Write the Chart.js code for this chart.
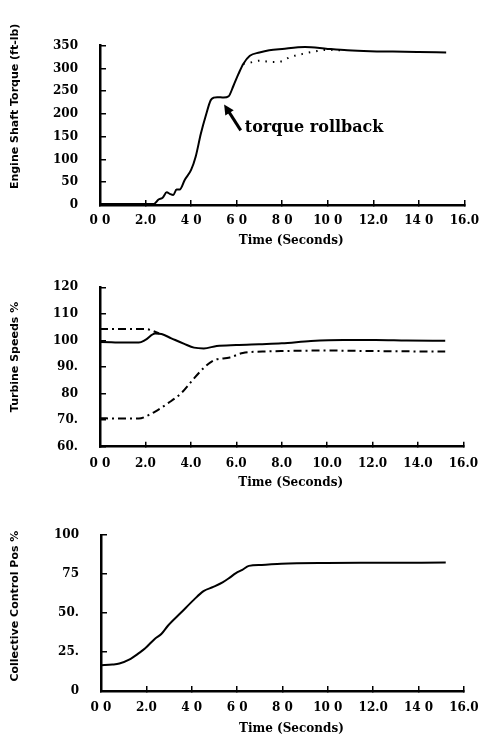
<!DOCTYPE html>
<html>
<head>
<meta charset="utf-8">
<script src="https://cdn.jsdelivr.net/npm/chart.js@4.4.1/dist/chart.umd.min.js"></script>
<style>
  html, body { margin: 0; padding: 0; background: #fff; }
  body { width: 493px; height: 736px; position: relative; overflow: hidden; }
  canvas { position: absolute; left: 0; }
</style>
</head>
<body>
<canvas id="c1" width="493" height="250" style="top:0px"></canvas>
<canvas id="c2" width="493" height="250" style="top:250px"></canvas>
<canvas id="c3" width="493" height="236" style="top:500px"></canvas>
<script>
// ---------------- DATA ----------------
// Shared x tick labels (as printed in the scanned figure)
const xTickLabelsA = ['0 0', '2.0', '4 0', '6 0', '8 0', '10 0', '12.0', '14 0', '16.0'];
const xTickLabelsB = ['0 0', '2.0', '4.0', '6.0', '8.0', '10.0', '12.0', '14.0', '16.0'];

// Chart 1: Engine shaft torque (ft-lb)
const torqueYTicks = ['0', '50', '100', '150', '200', '250', '300', '350'];
const torqueTime = [0, 1, 2, 2.36, 2.57, 2.75, 2.93, 3.08, 3.22, 3.36, 3.5, 3.72, 4.0, 4.2, 4.43, 4.65, 4.86, 5.0, 5.15, 5.43, 5.65, 5.86, 6.08, 6.29, 6.58, 7.0, 7.43, 8.0, 9.0, 10.0, 10.86, 11.86, 12.86, 14.0, 15.2];
const torqueSolid = [2, 2, 2, 2, 12, 16, 28, 24, 22, 34, 34, 55, 77, 106, 157, 197, 230, 236, 237, 236, 239, 262, 288, 310, 328, 335, 340, 343, 347, 343, 340, 338, 337, 336, 335];
const torqueDotTime = [6.29, 6.6, 7.0, 7.6, 8.0, 8.3, 8.9, 9.4, 10.0, 10.6];
const torqueDotted = [310, 313, 317, 314, 316, 324, 332, 337, 341, 340];
const rollbackLabel = 'torque rollback';
const rollbackTip = [5.45, 221];
const rollbackTail = [6.18, 164];

// Chart 2: Turbine speeds %
const speedYTicks = ['60.', '70.', '80', '90.', '100', '110', '120'];
const speedTime = [0, 0.5, 1.0, 1.71, 2.0, 2.43, 2.71, 3.14, 3.71, 4.14, 4.57, 5.14, 6.0, 7.0, 8.0, 9.29, 10.71, 12.14, 13.5, 15.2];
const speedSolid = [99.4, 99.3, 99.2, 99.2, 100.2, 102.6, 102.4, 100.8, 98.7, 97.3, 97.0, 97.9, 98.3, 98.6, 98.9, 99.8, 100.2, 100.2, 100.0, 99.9];
const speedUpperTime = [0, 1.0, 2.0, 2.29, 2.6];
const speedUpper = [104.3, 104.3, 104.3, 103.7, 102.6];
const speedLowerTime = [0, 1.0, 1.71, 2.14, 2.43, 3.0, 3.57, 4.0, 4.57, 5.0, 5.14, 5.72, 6.29, 7.15, 8.0, 10.0, 12.0, 15.2];
const speedLower = [70.7, 70.6, 70.6, 71.9, 73.2, 76.4, 80.1, 84.3, 89.7, 92.5, 92.9, 93.6, 95.3, 95.8, 96.0, 96.2, 96.0, 95.8];

// Chart 3: Collective control position %
const collYTicks = ['0', '25.', '50.', '75', '100'];
const collTime = [0, 0.5, 0.81, 1.24, 1.67, 1.95, 2.38, 2.67, 2.95, 3.52, 4.09, 4.52, 4.95, 5.38, 5.66, 5.95, 6.23, 6.52, 7.09, 7.95, 9.94, 12.0, 15.2];
const collPos = [16.6, 17.0, 17.6, 20.1, 24.3, 27.4, 33.6, 36.7, 41.9, 50.2, 58.5, 64.1, 66.8, 69.9, 72.6, 75.7, 77.8, 80.3, 80.9, 81.7, 82.2, 82.3, 82.4];

// ---------------- HELPERS ----------------
const pts = (xs, ys) => xs.map((x, i) => ({ x: x, y: ys[i] }));
const TICK_FONT = { family: 'DejaVu Serif', weight: 'bold', size: 12 };

const paperText = {
  id: 'paperText',
  afterDraw(chart, args, o) {
    const { ctx, chartArea: a } = chart;
    ctx.save();
    ctx.fillStyle = '#000';
    ctx.textAlign = 'center';
    ctx.textBaseline = 'middle';
    ctx.font = 'bold 12px "DejaVu Serif"';
    ctx.fillText(o.xTitle, (a.left + a.right) / 2 + o.xDx, a.bottom + o.xDy);
    ctx.translate(o.yX, (a.top + a.bottom) / 2 + o.yDy);
    ctx.rotate(-Math.PI / 2);
    ctx.font = 'bold 11px "DejaVu Sans"';
    ctx.fillText(o.yTitle, 0, 0);
    ctx.restore();
  }
};

const rollback = {
  id: 'rollback',
  afterDatasetsDraw(chart, args, o) {
    if (!o || !o.text) return;
    const { ctx, scales: { x, y } } = chart;
    const tx = x.getPixelForValue(o.tip[0]), ty = y.getPixelForValue(o.tip[1]);
    const bx = x.getPixelForValue(o.tail[0]), by = y.getPixelForValue(o.tail[1]);
    const ang = Math.atan2(ty - by, tx - bx);
    const hl = 10, hw = 5;
    ctx.save();
    ctx.strokeStyle = '#000'; ctx.fillStyle = '#000';
    ctx.lineWidth = 3;
    ctx.beginPath();
    ctx.moveTo(bx, by);
    ctx.lineTo(tx - Math.cos(ang) * hl * 0.8, ty - Math.sin(ang) * hl * 0.8);
    ctx.stroke();
    ctx.beginPath();
    ctx.moveTo(tx, ty);
    ctx.lineTo(tx - Math.cos(ang) * hl - Math.sin(ang) * hw, ty - Math.sin(ang) * hl + Math.cos(ang) * hw);
    ctx.lineTo(tx - Math.cos(ang) * hl + Math.sin(ang) * hw, ty - Math.sin(ang) * hl - Math.cos(ang) * hw);
    ctx.closePath();
    ctx.fill();
    ctx.font = 'bold 16px "DejaVu Serif"';
    ctx.textAlign = 'left';
    ctx.textBaseline = 'middle';
    ctx.fillText(o.text, bx + 4, by - 3);
    ctx.restore();
  }
};

function makeChart(id, L, datasets, yMin, yMax, yStep, yLabels, xLabels, texts, extra) {
  return new Chart(document.getElementById(id), {
    type: 'line',
    data: { datasets: datasets },
    plugins: [paperText, rollback],
    options: {
      responsive: false,
      animation: false,
      devicePixelRatio: 1,
      layout: { padding: { left: 0, right: L.right, top: L.top, bottom: 0 } },
      plugins: {
        legend: { display: false },
        tooltip: { enabled: false },
        paperText: texts,
        rollback: extra || {}
      },
      elements: { point: { radius: 0 }, line: { tension: 0, cubicInterpolationMode: 'monotone' } },
      scales: {
        x: {
          type: 'linear', min: 0, max: 16,
          afterFit: s => { s.height = L.xBox; },
          ticks: { stepSize: 2, color: '#000', font: TICK_FONT, padding: L.xPad, maxRotation: 0,
                   callback: (v, i) => xLabels[i] },
          grid: { display: true, drawOnChartArea: false, drawTicks: true, tickLength: -5, color: '#000', lineWidth: 1.5 },
          border: { display: true, color: '#000', width: 2.5 }
        },
        y: {
          type: 'linear', min: yMin, max: yMax,
          afterFit: s => { s.width = L.left; },
          ticks: { stepSize: yStep, color: '#000', font: TICK_FONT, padding: 28,
                   callback: (v, i) => yLabels[i] },
          grid: { display: true, drawOnChartArea: false, drawTicks: true, tickLength: -6, color: '#000', lineWidth: 1.5 },
          border: { display: true, color: '#000', width: 2.5 }
        }
      }
    }
  });
}

const solid = (d) => ({ data: d, borderColor: '#000', borderWidth: 2, fill: false });

// Chart 1
makeChart('c1', { left: 100, right: 20, top: 45.7, xBox: 45, xPad: 14 },
  [
    solid(pts(torqueTime, torqueSolid)),
    { data: pts(torqueDotTime, torqueDotted), borderColor: '#000', borderWidth: 2, borderDash: [1.5, 6], fill: false }
  ],
  0, 350, 50, torqueYTicks, xTickLabelsA,
  { xTitle: 'Time (Seconds)', xDx: 9, xDy: 35.5, yTitle: 'Engine Shaft Torque (ft-lb)', yX: 15, yDy: -19 },
  { text: rollbackLabel, tip: rollbackTip, tail: rollbackTail });

// Chart 2
makeChart('c2', { left: 100, right: 20, top: 37.3, xBox: 53.3, xPad: 15 },
  [
    solid(pts(speedTime, speedSolid)),
    { data: pts(speedUpperTime, speedUpper), borderColor: '#000', borderWidth: 2, borderDash: [8, 4, 2, 4], fill: false },
    { data: pts(speedLowerTime, speedLower), borderColor: '#000', borderWidth: 2, borderDash: [8, 4, 2, 4], fill: false }
  ],
  60, 120, 10, speedYTicks, xTickLabelsB,
  { xTitle: 'Time (Seconds)', xDx: 9, xDy: 36, yTitle: 'Turbine Speeds %', yX: 15, yDy: -10 });

// Chart 3
makeChart('c3', { left: 101, right: 18, top: 30, xBox: 45, xPad: 14.5 },
  [ solid(pts(collTime, collPos)) ],
  0, 100, 25, collYTicks, xTickLabelsA,
  { xTitle: 'Time (Seconds)', xDx: 9, xDy: 38, yTitle: 'Collective Control Pos %', yX: 15, yDy: -7 });
</script>
</body>
</html>
